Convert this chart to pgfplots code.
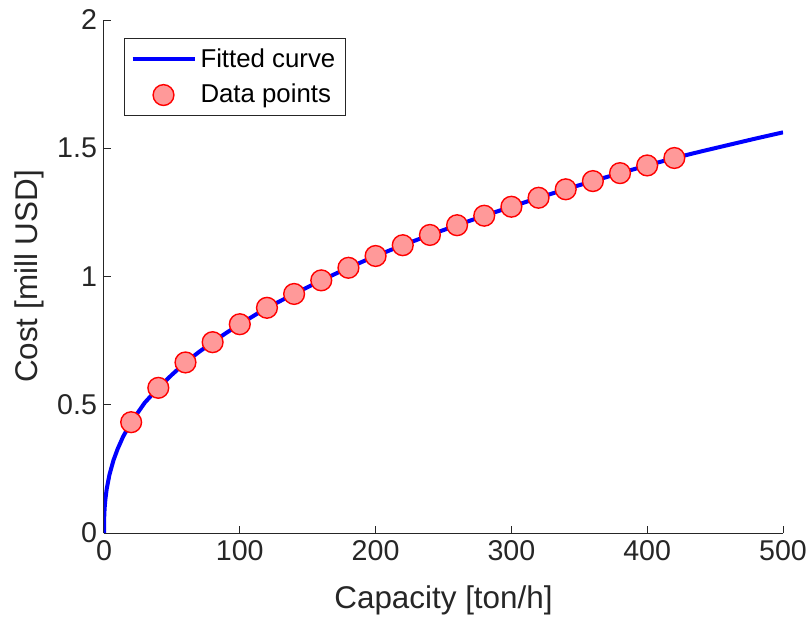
\documentclass[border=0pt]{standalone}
\usepackage{pgfplots}
\pgfplotsset{compat=1.18}
\usepackage{fontspec}
\setmainfont{Liberation Sans}
\definecolor{axgray}{gray}{0.15}
\definecolor{ptfill}{RGB}{255,153,153}

\begin{document}
\begin{tikzpicture}
    \begin{axis}[
        scale only axis,
        width=339.5pt,
        height=256.5pt,
        xmin=0, xmax=500,
        ymin=0, ymax=2,
        enlargelimits=false,
        axis lines=left,
        axis line style={-, axgray, line width=0.5pt},
        tick style={axgray, line width=0.5pt},
        major tick length=3.4pt,
        tick align=inside,
        xtick={0,100,...,500},
        ytick={0,0.5,1,1.5,2},
        /pgf/number format/assume math mode=true,
        tick label style={font=\fontsize{14.3}{16}\selectfont, text=axgray},
        xlabel={Capacity [ton/h]},
        ylabel={Cost [mill USD]},
        every axis x label/.style={at={(axis description cs:0.5,-0.1306)}, anchor=center,
            font=\fontsize{15.7}{18}\selectfont, text=axgray},
        every axis y label/.style={at={(axis description cs:-0.1105,0.5)}, anchor=center, rotate=90,
            font=\fontsize{15.7}{18}\selectfont, text=axgray},
        legend style={
            font=\fontsize{12.9}{15}\selectfont,
            draw=axgray,
            line width=0.5pt,
            fill=white,
            at={(axis cs:0,2)},
            anchor=north west,
            xshift=10pt, yshift=-9pt,
            inner xsep=3pt,
            inner ysep=3pt,
            row sep=3pt,
            cells={anchor=west},
        },
    ]
    % fitted curve
    \addplot[blue, line width=2pt, mark=none,
        legend image code/.code={\draw[blue, line width=2pt] (0pt,0pt) -- (31pt,0pt);}]
    coordinates {
    (0,0) (0.02,0.027) (0.1,0.052) (0.25,0.075) (0.5,0.099) (1,0.130) (2,0.172)
    (4,0.227) (7,0.284) (10,0.327) (14,0.375) (20,0.432) (30,0.508) (40,0.566)
    (50,0.617) (60,0.665) (70,0.706) (80,0.744) (90,0.780) (100,0.814) (120,0.878)
    (140,0.932) (160,0.985) (180,1.034) (200,1.080) (220,1.122) (240,1.162)
    (260,1.200) (280,1.237) (300,1.272) (320,1.307) (340,1.340) (360,1.372)
    (380,1.403) (400,1.433) (420,1.462) (440,1.488) (460,1.513) (480,1.538)
    (500,1.562)
    }; \addlegendentry{Fitted curve}
    % data points
    \addplot[only marks, mark=*, mark size=5.2pt,
        mark options={draw=red, fill=ptfill, line width=0.7pt},
        legend image code/.code={\draw[mark=*, mark size=5.2pt, mark options={draw=red, fill=ptfill, line width=0.7pt}] plot coordinates {(15.5pt,0pt)};}]
    coordinates {
    (20,0.432) (40,0.566) (60,0.665) (80,0.744) (100,0.814) (120,0.878)
    (140,0.932) (160,0.985) (180,1.034) (200,1.080) (220,1.122) (240,1.162)
    (260,1.200) (280,1.237) (300,1.272) (320,1.307) (340,1.340) (360,1.372)
    (380,1.403) (400,1.433) (420,1.462)
    }; \addlegendentry{Data points}
    \end{axis}
    % page frame matching the reference margins
    \pgfresetboundingbox
    \path ([shift={(-52pt,-47pt)}]current axis.south west)
        rectangle ([shift={(14pt,10pt)}]current axis.north east);
\end{tikzpicture}
\end{document}
